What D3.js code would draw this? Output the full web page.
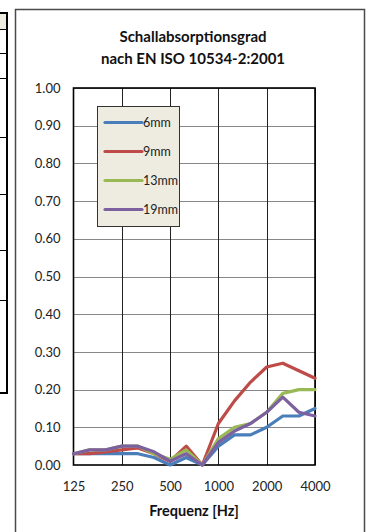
<!DOCTYPE html>
<html>
<head>
<meta charset="utf-8">
<script src="https://cdn.jsdelivr.net/npm/d3@7"></script>
<style>
  html, body { margin: 0; padding: 0; background: #fff; }
  svg { display: block; font-family: Lato, "Open Sans", sans-serif; }
</style>
</head>
<body>
<svg id="chart" width="369" height="532"></svg>
<script>
// Third-octave band centre frequencies (Hz)
const frequencies = ["125","160","200","250","315","400","500","630","800","1000","1250","1600","2000","2500","3150","4000"];
// Octave labels shown on the x axis
const xTickLabels = ["125","250","500","1000","2000","4000"];
// Absorption coefficient per thickness
const seriesNames = ["6mm","9mm","13mm","19mm"];
const alpha6  = [0.03,0.03,0.03,0.03,0.03,0.02,0.00,0.02,0.00,0.05,0.08,0.08,0.10,0.13,0.13,0.15];
const alpha9  = [0.03,0.03,0.035,0.04,0.045,0.03,0.01,0.05,0.00,0.11,0.17,0.22,0.26,0.27,0.25,0.23];
const alpha13 = [0.03,0.04,0.04,0.05,0.05,0.03,0.015,0.04,0.00,0.07,0.10,0.11,0.14,0.19,0.20,0.20];
const alpha19 = [0.03,0.04,0.04,0.05,0.05,0.035,0.01,0.03,0.00,0.06,0.09,0.11,0.14,0.18,0.14,0.13];
const yTicks = [0,0.1,0.2,0.3,0.4,0.5,0.6,0.7,0.8,0.9,1.0];
const colors = ["#4a7ebb","#be4b48","#98b954","#7d60a0"];

const svg = d3.select("#chart");

// Fragment of the neighbouring table on the left edge
const tbl = svg.append("g");
tbl.append("rect").attr("x", 0).attr("y", 13).attr("width", 7).attr("height", 16).attr("fill", "#eeece1");
[29, 53, 78, 137, 194, 250, 300].forEach(y => {
  tbl.append("line").attr("x1", 0).attr("x2", 7).attr("y1", y + 0.5).attr("y2", y + 0.5)
    .attr("stroke", "#000").attr("stroke-width", 1);
});
tbl.append("path").attr("d", "M0,13 H7 V393 H0").attr("fill", "none").attr("stroke", "#000").attr("stroke-width", 2);

// Chart frame
svg.append("rect").attr("x", 15.5).attr("y", 9.5).attr("width", 349).attr("height", 560)
  .attr("fill", "#fff").attr("stroke", "#4a4a4a").attr("stroke-width", 1.5);

const plot = { left: 73.5, right: 315, top: 88, bottom: 465 };

const x = d3.scalePoint().domain(frequencies).range([plot.left, plot.right]);
const y = d3.scaleLinear().domain([0, 1]).range([plot.bottom, plot.top]);

// Horizontal gridlines
svg.append("g").selectAll("line").data(yTicks.slice(1)).join("line")
  .attr("x1", plot.left).attr("x2", plot.right)
  .attr("y1", d => Math.round(y(d)) + 0.5).attr("y2", d => Math.round(y(d)) + 0.5)
  .attr("stroke", "#878787").attr("stroke-width", 1);

// Vertical gridlines at the octave bands
svg.append("g").selectAll("line").data(xTickLabels).join("line")
  .attr("x1", d => Math.round(x(d)) + 0.5).attr("x2", d => Math.round(x(d)) + 0.5)
  .attr("y1", plot.top).attr("y2", plot.bottom)
  .attr("stroke", "#222").attr("stroke-width", 1);

// Plot area border
svg.append("rect").attr("x", plot.left).attr("y", plot.top)
  .attr("width", plot.right - plot.left).attr("height", plot.bottom - plot.top)
  .attr("fill", "none").attr("stroke", "#000").attr("stroke-width", 1.6);

// Y axis labels
const yAxis = d3.axisLeft(y).tickValues(yTicks).tickFormat(d3.format(".2f")).tickSize(0).tickPadding(13);
const yg = svg.append("g").attr("transform", `translate(${plot.left},0)`).call(yAxis);
yg.select(".domain").remove();
yg.selectAll("text").attr("font-size", 13).attr("fill", "#222").attr("font-family", "Lato, sans-serif");

// X axis labels
const xAxis = d3.axisBottom(x).tickValues(xTickLabels).tickSize(0).tickPadding(17);
const xg = svg.append("g").attr("transform", `translate(0,${plot.bottom})`).call(xAxis);
xg.select(".domain").remove();
xg.selectAll("text").attr("font-size", 13).attr("fill", "#222").attr("font-family", "Lato, sans-serif");

// Series lines
const series = [alpha6, alpha9, alpha13, alpha19];
const line = d3.line().x((d, i) => x(frequencies[i])).y(d => y(d));
svg.append("g").selectAll("path").data(series).join("path")
  .attr("d", d => line(d))
  .attr("fill", "none")
  .attr("stroke", (d, i) => colors[i])
  .attr("stroke-width", 3.2)
  .attr("stroke-linejoin", "round")
  .attr("stroke-linecap", "round");

// Legend
const lg = svg.append("g");
lg.append("rect").attr("x", 97.5).attr("y", 106.5).attr("width", 82).attr("height", 120)
  .attr("fill", "#eeece1").attr("stroke", "#333").attr("stroke-width", 1);
seriesNames.forEach((name, i) => {
  const ly = 122.5 + i * 29;
  lg.append("line").attr("x1", 105).attr("x2", 142).attr("y1", ly).attr("y2", ly)
    .attr("stroke", colors[i]).attr("stroke-width", 3.2).attr("stroke-linecap", "round");
  lg.append("text").attr("x", 143).attr("y", ly).attr("dy", "0.35em")
    .attr("font-size", 12.5).attr("fill", "#222").text(name);
});

// Titles
svg.append("text").attr("x", 193).attr("y", 42).attr("text-anchor", "middle")
  .attr("font-size", 15).attr("font-weight", "bold").attr("fill", "#111").text("Schallabsorptionsgrad");
svg.append("text").attr("x", 193).attr("y", 64).attr("text-anchor", "middle")
  .attr("font-size", 15).attr("font-weight", "bold").attr("fill", "#111").text("nach EN ISO 10534-2:2001");
svg.append("text").attr("x", 194).attr("y", 516).attr("text-anchor", "middle")
  .attr("font-size", 14.5).attr("font-weight", "bold").attr("fill", "#111").text("Frequenz [Hz]");
</script>
</body>
</html>
